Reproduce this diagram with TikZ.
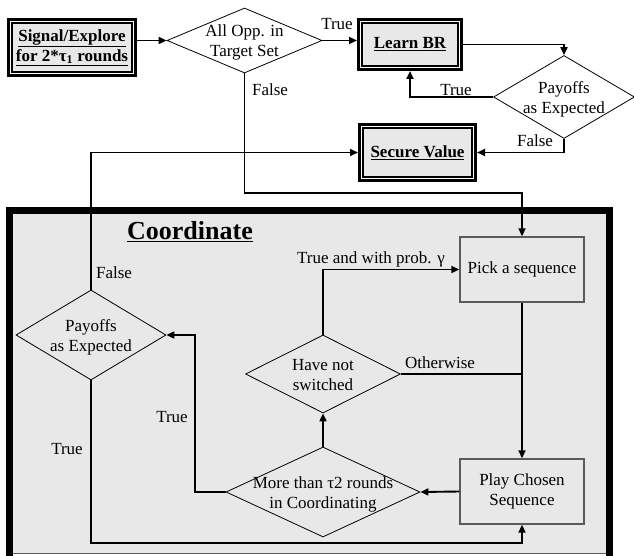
\documentclass[tikz,border=0pt]{standalone}
\usepackage{fontspec}
\setmainfont{Liberation Serif}
\usetikzlibrary{shapes.geometric,arrows.meta}
\definecolor{panel}{HTML}{E8E8E8}
\definecolor{boxline}{HTML}{5A5A5A}
\newcommand{\bodyfont}{\fontsize{17}{20}\selectfont}
\newcommand{\dtext}[1]{\makebox[0pt]{\smash{\raisebox{-6.5pt}{\begin{tabular}{@{}c@{}}#1\end{tabular}}}}}
\begin{document}
\begin{tikzpicture}[x=1pt,y=-1pt,every node/.style={font=\bodyfont},
  arrow/.style={line width=1.9pt,-{Triangle[length=8pt,width=7pt]}},
  link/.style={line width=1.9pt},
  decision/.style={diamond,draw,line width=0.8pt,inner sep=0pt},
  process/.style={draw=boxline,fill=panel,line width=1.4pt,align=center,inner sep=2pt},
  framed/.style={draw,fill=panel,line width=1.2pt,preaction={draw,line width=10pt},preaction={draw=white,line width=3.6pt},outer sep=5pt,inner sep=0pt,align=center,font=\bodyfont\bfseries},
  tag/.style={inner sep=1pt}]
\useasboundingbox (0,0) rectangle (634,556);
% coordinate panel
\fill[panel] (6,207) rectangle (613,554);
\draw[line width=7pt] (9.5,556) -- (9.5,210.5) -- (609.5,210.5) -- (609.5,556);
\draw[boxline,line width=1pt] (13,553) -- (606,553);
\node[font=\fontsize{26}{30}\selectfont\bfseries] (title) at (190,232) {\underline{Coordinate}};
% top row
\node[framed,minimum width=120,minimum height=49] (sig) at (72,47.5) {\underline{Signal/Explore}\\\underline{for 2*τ\textsubscript{1} rounds}};
\node[decision,minimum width=155,minimum height=65] (opp) at (244.5,40.5) {\dtext{All Opp. in\\Target Set}};
\node[framed,minimum width=96,minimum height=43] (lbr) at (410,44.5) {\underline{Learn BR}};
\node[decision,minimum width=141,minimum height=83] (pay1) at (564,97) {\dtext{Payoffs\\as Expected}};
\node[framed,minimum width=109,minimum height=49] (sec) at (417.5,152.5) {\underline{Secure Value}};
% inside the panel
\node[process,minimum width=124,minimum height=65] (pick) at (522,269.5) {Pick a sequence};
\node[process,minimum width=124,minimum height=65] (play) at (522,491.5) {Play Chosen\\Sequence};
\node[decision,minimum width=155,minimum height=78] (notsw) at (323,374) {\dtext{Have not\\switched}};
\node[decision,minimum width=194,minimum height=90] (more) at (323,492) {\dtext{More than τ2 rounds\\in Coordinating}};
\node[decision,minimum width=150,minimum height=90] (pay2) at (91,335) {\dtext{Payoffs\\as Expected}};
% connectors
\coordinate (jog) at (244.5,193);
\draw[arrow] (sig.east |- opp.west) -- (opp.west);
\draw[arrow] (opp.east) -- (opp.east -| lbr.west);
\draw[arrow] (lbr.east) -| (pay1.north);
\draw[arrow] (pay1.west) -| (lbr.south);
\draw[arrow] (pay1.south) |- (sec.east);
\draw[arrow] (opp.south) -- (jog) -| (pick.north);
\draw[arrow] (pay2.north) |- (sec.west);
\draw[arrow] (notsw.north) |- (pick.west);
\draw[link] (notsw.east) -- (notsw.east -| pick.south);
\draw[arrow] (pick.south) -- (play.north);
\draw[arrow] (play.west) -- (more.east);
\draw[arrow] (more.north) -- (notsw.south);
\draw[arrow] (more.west) -- ++(-31,0) |- (pay2.east);
\draw[arrow] (pay2.south) -- ++(0,163) -| (play.south);
% labels
\node[tag] (oppT) at (337,24) {True};
\node[tag] (oppF) at (270,90) {False};
\node[tag] (payT) at (456,90) {True};
\node[tag] (payF) at (535,141) {False};
\node[tag] (pay2F) at (114,273) {False};
\node[tag] (notswT) at (371,259) {True and with prob. γ};
\node[tag] (notswO) at (440,363) {Otherwise};
\node[tag] (moreT) at (172,417) {True};
\node[tag] (pay2T) at (67,449) {True};
\end{tikzpicture}
\end{document}
